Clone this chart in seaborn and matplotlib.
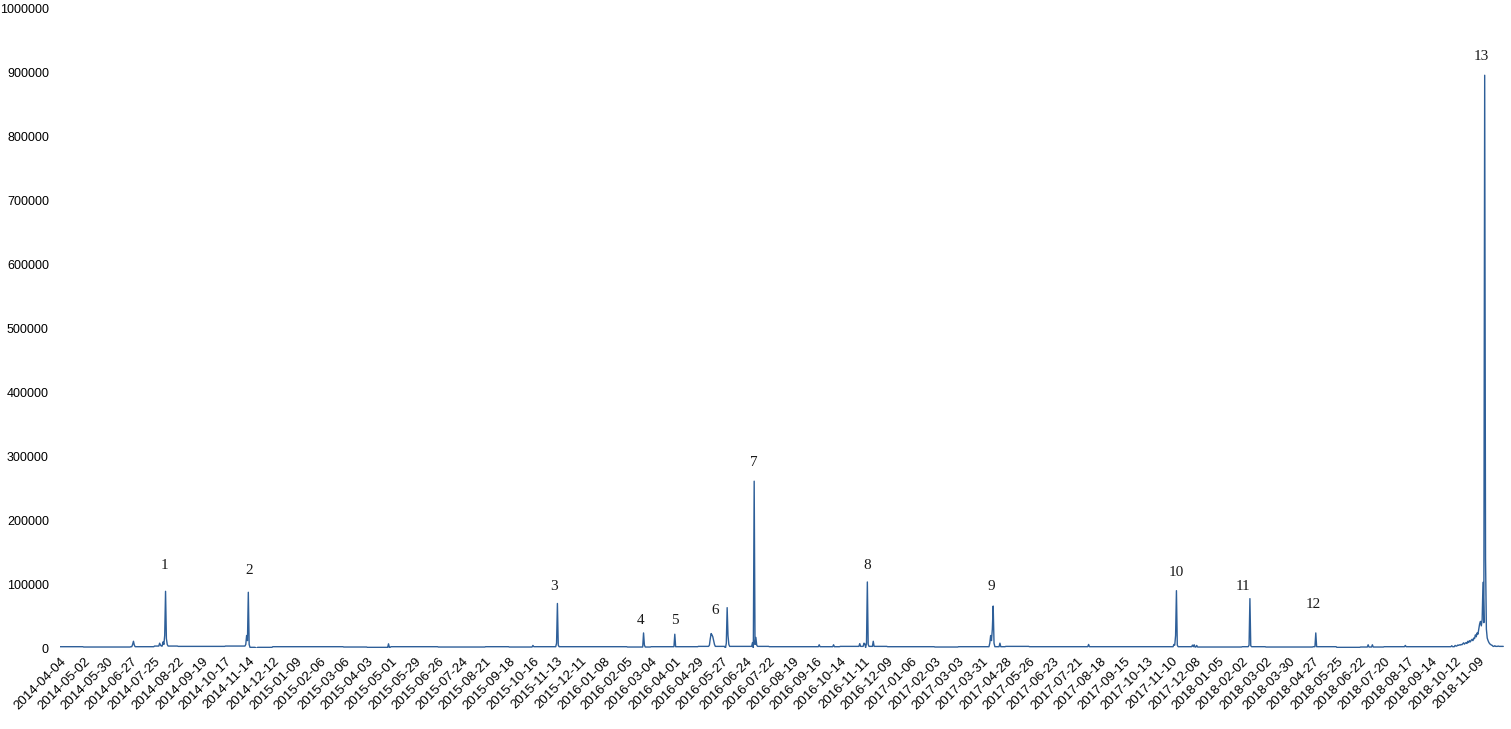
import matplotlib
matplotlib.use("Agg")
import matplotlib.pyplot as plt
import pandas as pd
import seaborn as sns

start_date = "2014-04-04"
end_date = "2018-12-08"
axis_end = "2018-12-10"

# x tick labels (every 28 days)
tick_labels = [
    "2014-04-04", "2014-05-02", "2014-05-30", "2014-06-27", "2014-07-25", "2014-08-22",
    "2014-09-19", "2014-10-17", "2014-11-14", "2014-12-12",
    "2015-01-09", "2015-02-06", "2015-03-06", "2015-04-03", "2015-05-01", "2015-05-29",
    "2015-06-26", "2015-07-24", "2015-08-21", "2015-09-18", "2015-10-16", "2015-11-13",
    "2015-12-11",
    "2016-01-08", "2016-02-05", "2016-03-04", "2016-04-01", "2016-04-29", "2016-05-27",
    "2016-06-24", "2016-07-22", "2016-08-19", "2016-09-16", "2016-10-14", "2016-11-11",
    "2016-12-09",
    "2017-01-06", "2017-02-03", "2017-03-03", "2017-03-31", "2017-04-28", "2017-05-26",
    "2017-06-23", "2017-07-21", "2017-08-18", "2017-09-15", "2017-10-13", "2017-11-10",
    "2017-12-08",
    "2018-01-05", "2018-02-02", "2018-03-02", "2018-03-30", "2018-04-27", "2018-05-25",
    "2018-06-22", "2018-07-20", "2018-08-17", "2018-09-14", "2018-10-12", "2018-11-09",
]

# usual daily level inside each 28-day block
base_levels = [
    2500, 2000, 2000, 2500, 3500, 3000, 3000, 3500, 1500, 2500,
    2500, 2500, 2000, 1500, 2500, 2500, 2000, 2000, 2500, 2000, 2500, 2500,
    2500,
    2500, 2000, 2500, 2500, 3000, 3000, 3000, 2500, 2500, 2500, 3000, 3000,
    2500,
    2500, 2000, 2500, 2500, 3000, 2500, 2500, 2500, 2500, 2500, 2500, 2500,
    2000,
    2000, 2500, 2000, 2000, 2500, 1500, 2000, 2500, 2500, 2500, 3500, 3000,
]

# days that stand out from the usual level
spike_dates = [
    "2014-06-29", "2014-06-30", "2014-07-01", "2014-07-31", "2014-08-01", "2014-08-04",
    "2014-08-05", "2014-08-06", "2014-08-07", "2014-08-08", "2014-08-09",
    "2014-11-10", "2014-11-11", "2014-11-12", "2014-11-13", "2014-11-14", "2014-11-22",
    "2014-11-23",
    "2015-04-27", "2015-04-28", "2015-10-16", "2015-11-13", "2015-11-14", "2015-11-15",
    "2016-02-24", "2016-02-25", "2016-04-01",
    "2016-05-12", "2016-05-13", "2016-05-14", "2016-05-15", "2016-05-16", "2016-05-17",
    "2016-05-18", "2016-05-31", "2016-06-01", "2016-06-02", "2016-06-03", "2016-06-04",
    "2016-07-02", "2016-07-03", "2016-07-04", "2016-07-05", "2016-07-06", "2016-07-07",
    "2016-09-19", "2016-10-06",
    "2016-11-06", "2016-11-11", "2016-11-12", "2016-11-13", "2016-11-14", "2016-11-15",
    "2016-11-16", "2016-11-22",
    "2017-04-09", "2017-04-10", "2017-04-11", "2017-04-12", "2017-04-13", "2017-04-14",
    "2017-04-21", "2017-08-04",
    "2017-11-13", "2017-11-14", "2017-11-15", "2017-11-16", "2017-11-17",
    "2017-12-05", "2017-12-07", "2017-12-10",
    "2018-02-10", "2018-02-11", "2018-02-12", "2018-04-30",
    "2018-07-01", "2018-07-06", "2018-08-14",
    "2018-10-08", "2018-10-12", "2018-10-15", "2018-10-16", "2018-10-17", "2018-10-18",
    "2018-10-19", "2018-10-20",
    "2018-10-21", "2018-10-22", "2018-10-23", "2018-10-24", "2018-10-25", "2018-10-26",
    "2018-10-27", "2018-10-28", "2018-10-29", "2018-10-30", "2018-10-31",
    "2018-11-01", "2018-11-02", "2018-11-03", "2018-11-04", "2018-11-05", "2018-11-06",
    "2018-11-07", "2018-11-08", "2018-11-09", "2018-11-10", "2018-11-11", "2018-11-12",
    "2018-11-13", "2018-11-14", "2018-11-15", "2018-11-16", "2018-11-17", "2018-11-18",
    "2018-11-19", "2018-11-20", "2018-11-21", "2018-11-22", "2018-11-23", "2018-11-24",
    "2018-11-25", "2018-11-28", "2018-12-02",
]
spike_values = [
    6000, 11000, 5000, 8000, 5000, 10000,
    6000, 20000, 89000, 15000, 6000,
    6000, 20000, 12000, 87500, 6000, 500,
    0,
    1000, 7000, 4500, 8000, 70000, 5000,
    24000, 5000, 22000,
    5000, 15000, 23000, 21000, 18000, 12000,
    6000, 500, 8000, 63500, 20000, 6000,
    9000, 1000, 261000, 6000, 17000, 5000,
    5500, 5500,
    7300, 8000, 7000, 1000, 8000, 103600,
    6000, 11000,
    8000, 20000, 12000, 30000, 66000, 8000,
    8000, 6000,
    6000, 5000, 20000, 90000, 5000,
    5000, 5500, 4500,
    5000, 77600, 4000, 24000,
    5500, 5500, 4500,
    4000, 4500, 5000, 4500, 5500, 5000,
    6000, 5500,
    7000, 8500, 6500, 8000, 9000, 7500,
    11000, 9000, 12000, 10000, 12500,
    14000, 12000, 16000, 15000, 21000, 18000,
    24000, 22000, 30000, 38000, 42000, 35000,
    45000, 103000, 40000, 895000, 140000, 30000,
    16000, 12000, 9000, 7000, 6000, 5000,
    4500, 4000, 3500,
]

# numbered labels above the peaks
label_text = ["1", "2", "3", "4", "5", "6", "7", "8", "9", "10", "11", "12", "13"]
label_dates = [
    "2014-08-05 12:00", "2014-11-14", "2015-11-10", "2016-02-20", "2016-04-01",
    "2016-05-19", "2016-07-04", "2016-11-15", "2017-04-11", "2017-11-16",
    "2018-02-03", "2018-04-27", "2018-11-11 12:00",
]
label_values = [129700, 121900, 97300, 42700, 42700, 59400, 289500,
                129700, 97300, 117700, 96900, 68750, 923900]

days = pd.date_range(start_date, end_date, freq="D")
series = pd.Series(base_levels, index=pd.to_datetime(tick_labels)).reindex(days, method="ffill")
series.update(pd.Series(spike_values, index=pd.to_datetime(spike_dates), dtype=float))
df = pd.DataFrame({"date": days, "value": series.values})

sns.set_theme(style="white")
plt.rcParams["font.family"] = ["Liberation Sans", "DejaVu Sans"]

fig = plt.figure(figsize=(15.11, 7.29), dpi=100)
ax = fig.add_axes([0.0397, 0.1107, 0.9563, 0.8783])

sns.lineplot(data=df, x="date", y="value", color="#2e5f99", linewidth=1.0, ax=ax)

for txt, d, v in zip(label_text, label_dates, label_values):
    ax.text(pd.Timestamp(d), v, txt, ha="center", va="center", fontsize=11,
            family=["Liberation Serif", "DejaVu Serif"], color="#1a1a1a")

ax.set_xlim(pd.Timestamp(start_date), pd.Timestamp(axis_end))
ax.set_ylim(0, 1000000)
ax.set_yticks(range(0, 1000001, 100000))
ax.set_yticklabels([str(v) for v in range(0, 1000001, 100000)], fontsize=9)
ax.set_xticks(pd.to_datetime(tick_labels))
ax.set_xticklabels(tick_labels, rotation=45, ha="right", rotation_mode="anchor", fontsize=9.5)
ax.tick_params(axis="both", length=0, colors="black")
ax.tick_params(axis="y", pad=8)
ax.tick_params(axis="x", pad=5)
ax.set_xlabel("")
ax.set_ylabel("")
sns.despine(ax=ax, left=True, bottom=True)

fig.savefig("out.png", dpi=100)
